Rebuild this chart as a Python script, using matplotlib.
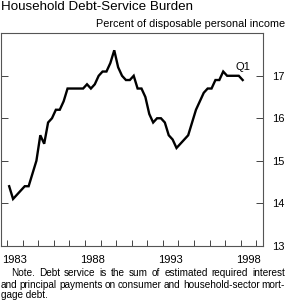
import numpy as np
import matplotlib
matplotlib.use("Agg")
import matplotlib.pyplot as plt

# ----------------------------
# Data (quarterly, 1983 Q1 - 1998 Q1)
# ----------------------------
start_year = 1983
debt_service = [
    14.4, 14.1, 14.2, 14.3,   # 1983
    14.4, 14.4, 14.7, 15.0,   # 1984
    15.6, 15.4, 15.9, 16.0,   # 1985
    16.2, 16.2, 16.4, 16.7,   # 1986
    16.7, 16.7, 16.7, 16.7,   # 1987
    16.8, 16.7, 16.8, 17.0,   # 1988
    17.1, 17.1, 17.3, 17.6,   # 1989
    17.2, 17.0, 16.9, 16.9,   # 1990
    17.0, 16.7, 16.7, 16.5,   # 1991
    16.1, 15.9, 16.0, 16.0,   # 1992
    15.9, 15.6, 15.5, 15.3,   # 1993
    15.4, 15.5, 15.6, 15.9,   # 1994
    16.2, 16.4, 16.6, 16.7,   # 1995
    16.7, 16.9, 16.9, 17.1,   # 1996
    17.0, 17.0, 17.0, 17.0,   # 1997
    16.9,                     # 1998 Q1
]
year_ticks = list(range(1983, 2000))
year_labels = ["1983", "1988", "1993", "1998"]
y_ticks = [13, 14, 15, 16, 17]
last_label = "Q1"

title = "Household Debt-Service Burden"
units = "Percent of disposable personal income"
note_lines = [
    "Note. Debt service is the sum of estimated required interest",
    "and principal payments on consumer and household-sector mort-",
    "gage debt.",
]

plt.rcParams["font.family"] = "sans-serif"
plt.rcParams["font.sans-serif"] = ["Liberation Sans"]

W, H = 287, 302
fig = plt.figure(figsize=(W / 100, H / 100), dpi=100)
ax = fig.add_axes([1 / W, 1 - 245.7 / H, 262.3 / W, 212.4 / H])

# quarter mid-points
x = start_year + (np.arange(len(debt_service)) + 0.5) / 4
ax.plot(x, debt_service, color="black", lw=1.7, solid_joinstyle="miter")
ax.text(x[-1], debt_service[-1] + 0.2, last_label, fontsize=8,
        ha="center", va="bottom")

ax.set_xlim(1982.6, 1999.45)
ax.set_ylim(13, 18)

ax.set_xticks(year_ticks)
ax.set_xticklabels([])
ax.set_xticks([int(y) + 0.5 for y in year_labels], minor=True)
ax.set_xticklabels(year_labels, minor=True, fontsize=8)
ax.tick_params(axis="x", which="major", direction="in", length=4.5, width=0.7,
               color="#444444")
ax.tick_params(axis="x", which="minor", length=0, pad=6.5)

ax.set_yticks(y_ticks)
ax.set_yticklabels([str(v) for v in y_ticks], fontsize=8)
ax.tick_params(axis="y", direction="in", left=True, right=True,
               labelleft=False, labelright=True, length=5, width=0.7,
               pad=6.5, color="#444444")

for s in ax.spines.values():
    s.set_linewidth(0.8)
    s.set_color("#555555")

fig.text(1 / W, 1 - 10 / H, title, fontsize=9.6, ha="left", va="baseline")
fig.text(285 / W, 1 - 27 / H, units, fontsize=7.8, ha="right", va="baseline")


# justified note text, word by word
def justify(text, x0, x1, y, **kw):
    words = text.split()
    r = fig.canvas.get_renderer()
    objs = [fig.text(0, y, w, **kw) for w in words]
    widths = [o.get_window_extent(r).width for o in objs]
    gap = ((x1 - x0) - sum(widths)) / (len(words) - 1)
    pos = x0
    for o, w in zip(objs, widths):
        o.set_x(pos / W)
        pos += w + gap


note_kw = dict(fontsize=7.2, va="baseline")
justify(note_lines[0], 11, 285, 1 - 276.5 / H, **note_kw)
justify(note_lines[1], 1, 285, 1 - 287.5 / H, **note_kw)
fig.text(1 / W, 1 - 298 / H, note_lines[2], **note_kw)

fig.savefig("out.png", dpi=100)
